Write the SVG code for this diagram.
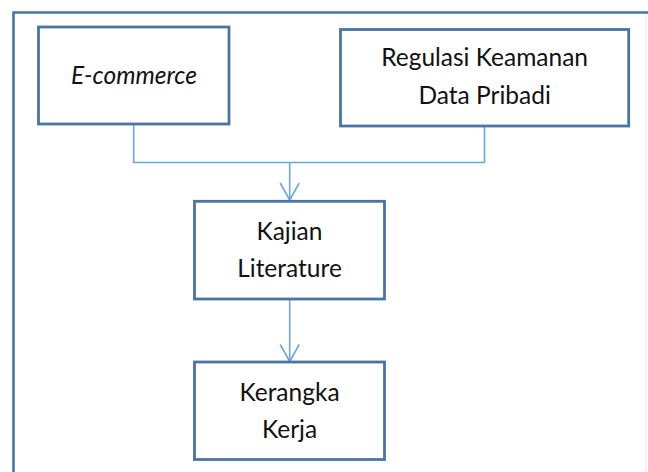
<svg xmlns="http://www.w3.org/2000/svg" width="648" height="472" viewBox="0 0 648 472">
  <style>
    .frame { fill: none; stroke: #4a74a3; stroke-width: 2.6; }
    .box { fill: #ffffff; stroke: #4a74a3; stroke-width: 2.8; }
    .conn { fill: none; stroke: #6fa6da; stroke-width: 1.6; }
    .lbl { font-family: Lato, "Liberation Sans", sans-serif; font-size: 24.5px; fill: #111111; text-anchor: middle; }
  </style>
  <defs>
    <marker id="arr" markerUnits="userSpaceOnUse" markerWidth="24" markerHeight="24" refX="20" refY="10" orient="auto">
      <path d="M3,0.5 L20,10 L3,19.5" fill="none" stroke="#6fa6da" stroke-width="1.6"/>
    </marker>
  </defs>
  <rect x="0" y="0" width="648" height="472" fill="#ffffff"/>
  <path class="frame" d="M13.5,480 L13.5,12.5 L660,12.5"/>
  <line x1="646" y1="14" x2="646" y2="472" stroke="#e6e6e6" stroke-width="1"/>
  <g id="connectors">
    <path class="conn" d="M133.7,124 L133.7,162.5 L484.5,162.5 L484.5,126"/>
    <path class="conn" d="M289.7,162.5 L289.7,200" marker-end="url(#arr)"/>
    <path class="conn" d="M289.7,299 L289.7,361.5" marker-end="url(#arr)"/>
  </g>
  <g id="ecommerce">
    <rect class="box" x="38.5" y="27" width="190.5" height="97"/>
    <text class="lbl" x="134" y="84" font-style="italic" font-size="26px">E-commerce</text>
  </g>
  <g id="regulasi">
    <rect class="box" x="340.5" y="29.5" width="288.2" height="96.5"/>
    <text class="lbl" x="484.6" y="66">Regulasi Keamanan</text>
    <text class="lbl" x="484.6" y="104">Data Pribadi</text>
  </g>
  <g id="kajian">
    <rect class="box" x="194.5" y="201.3" width="190" height="97.7"/>
    <text class="lbl" x="289.5" y="240">Kajian</text>
    <text class="lbl" x="289.5" y="277">Literature</text>
  </g>
  <g id="kerangka">
    <rect class="box" x="194.5" y="362" width="190" height="97.5"/>
    <text class="lbl" x="289.5" y="401">Kerangka</text>
    <text class="lbl" x="289.5" y="438">Kerja</text>
  </g>
</svg>
